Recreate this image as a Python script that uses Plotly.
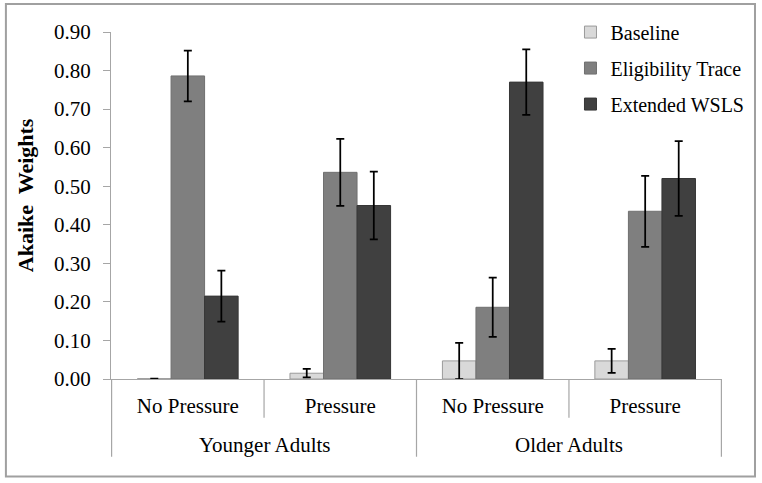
# Akaike weights per model, by age group and pressure condition
import plotly.graph_objects as go

age_groups = ["Younger Adults", "Younger Adults", "Older Adults", "Older Adults"]
conditions = ["No Pressure", "Pressure", "No Pressure", "Pressure"]
y_ticks = [0.0, 0.1, 0.2, 0.3, 0.4, 0.5, 0.6, 0.7, 0.8, 0.9]

baseline = [0.001, 0.015, 0.047, 0.047]
baseline_err = [0.0, 0.011, 0.047, 0.031]
eligibility = [0.786, 0.536, 0.186, 0.435]
eligibility_err = [0.066, 0.087, 0.077, 0.092]
wsls = [0.215, 0.450, 0.770, 0.520]
wsls_err = [0.066, 0.088, 0.085, 0.097]

series = [
    ("Baseline", baseline, baseline_err, "#d9d9d9", "#9a9a9a"),
    ("Eligibility Trace", eligibility, eligibility_err, "#7f7f7f", "#707070"),
    ("Extended WSLS", wsls, wsls_err, "#404040", "#363636"),
]

serif = "Liberation Serif"
grey = "#a6a6a6"

# one unique key per bar cluster, shown with the inner label only
keys = [g + "|" + c for g, c in zip(age_groups, conditions)]

fig = go.Figure()
for i, (name, vals, errs, color, edge) in enumerate(series):
    fig.add_trace(go.Bar(
        name=name, x=keys, y=vals,
        marker=dict(color=color, line=dict(color=edge, width=1)),
        error_y=dict(type="data", array=errs, color="black", thickness=1.75, width=4),
        legendgroup=str(i),
    ))

fig.update_layout(
    width=762, height=483,
    margin=dict(l=111, r=40, t=32, b=104, autoexpand=False),
    paper_bgcolor="white", plot_bgcolor="white",
    font=dict(family=serif, size=21, color="black"),
    barmode="group", bargap=0.34, bargroupgap=0,
    showlegend=True,
    legend=dict(x=0.752, y=1.056, xanchor="left", yanchor="top",
                font=dict(family=serif, size=20), tracegroupgap=7,
                bgcolor="rgba(0,0,0,0)"),
    yaxis=dict(
        range=[0, 0.9], tickvals=y_ticks, tickformat=".2f",
        showgrid=False, zeroline=False,
        showline=True, linecolor=grey, linewidth=1,
        ticks="outside", ticklen=7, tickcolor=grey,
        ticklabelstandoff=8, automargin=False,
        tickfont=dict(family=serif, size=21),
    ),
    xaxis=dict(
        type="category", tickvals=keys, ticktext=conditions,
        showline=True, linecolor=grey, linewidth=1,
        ticks="", showgrid=False, ticklabelstandoff=8, automargin=False,
        tickfont=dict(family=serif, size=21),
    ),
)

# dividers of the two-level category axis
n = len(keys)
for b in range(n + 1):
    outer = b == 0 or b == n or age_groups[b - 1] != age_groups[b]
    fig.add_shape(type="line", xref="x", yref="paper",
                  x0=b - 0.5, x1=b - 0.5, y0=0, y1=-0.224 if outer else -0.1115,
                  line=dict(color=grey, width=1.2))

# outer (age group) labels
for g in dict.fromkeys(age_groups):
    idx = [k for k, a in enumerate(age_groups) if a == g]
    fig.add_annotation(x=sum(idx) / len(idx), xref="x", y=-0.189, yref="paper",
                       text=g, showarrow=False, xanchor="center", yanchor="middle",
                       font=dict(family=serif, size=21))

# y axis title
fig.add_annotation(x=-0.140, y=0.531, xref="paper", yref="paper",
                   text="<b>Akaike  Weights</b>", textangle=-90, showarrow=False,
                   xanchor="center", yanchor="middle",
                   font=dict(family=serif, size=22))

# grey frame around the whole chart area
fig.add_shape(type="rect", xref="paper", yref="paper",
              x0=-0.172, x1=1.054, y0=-0.2807, y1=1.0807,
              line=dict(color="#a0a0a0", width=2), layer="below")

# drop the default page margin so the figure sits at the window origin
fig.write_html("out.html", config={"displayModeBar": False},
               post_script="document.body.style.margin='0';")
